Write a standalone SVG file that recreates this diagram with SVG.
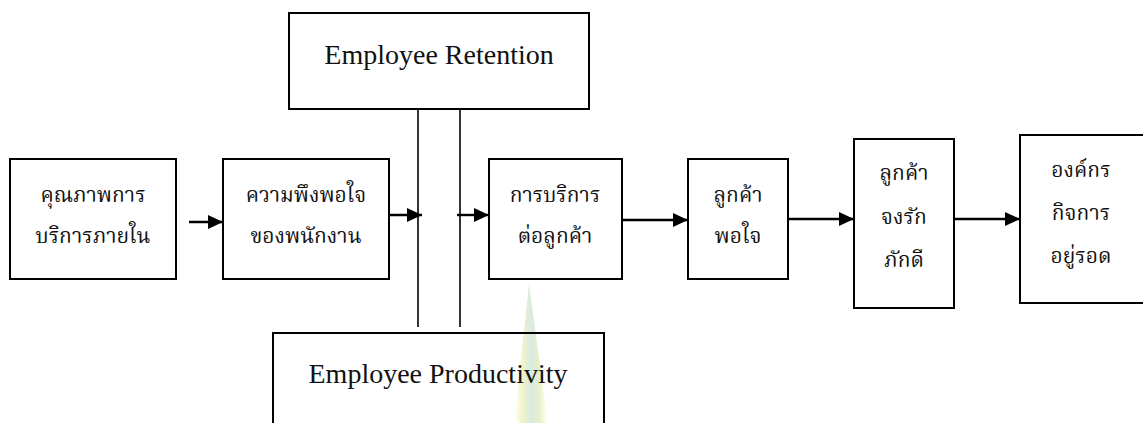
<svg xmlns="http://www.w3.org/2000/svg" width="1143" height="423" viewBox="0 0 1143 423">
  <defs>
    <style>
      .box { fill: none; stroke: #000; stroke-width: 2; }
      .th { font-family: "Liberation Serif", "Noto Serif Thai", "Noto Sans Thai", serif; font-size: 21px; fill: #111; text-anchor: middle; }
      .en { font-family: "Liberation Serif", serif; font-size: 28px; fill: #111; text-anchor: middle; }
      .flow { stroke: #000; stroke-width: 2.4; fill: none; marker-end: url(#head); }
      .rail { stroke: #000; stroke-width: 1.6; fill: none; }
    </style>
    <marker id="head" markerUnits="userSpaceOnUse" markerWidth="16" markerHeight="14" refX="15" refY="7" orient="auto">
      <path d="M0,0 L15,7 L0,14 z" fill="#000"/>
    </marker>
    <linearGradient id="spike" x1="0" y1="0" x2="1" y2="0">
      <stop offset="0" stop-color="#f7f3c4" stop-opacity="0"/>
      <stop offset="0.25" stop-color="#eef2c0"/>
      <stop offset="0.5" stop-color="#d3e8df"/>
      <stop offset="0.75" stop-color="#e4efc2"/>
      <stop offset="1" stop-color="#f7f3c4" stop-opacity="0"/>
    </linearGradient>
  </defs>
  <rect width="1143" height="423" fill="#fff"/>

  <!-- faint background spike -->
  <polygon points="529,284 514,423 548,423" fill="url(#spike)" opacity="0.9"/>

  <g id="connectors">
    <line class="rail" x1="418" y1="110" x2="418" y2="327"/>
    <line class="rail" x1="460" y1="110" x2="460" y2="327"/>
    <line class="flow" x1="189" y1="222" x2="223" y2="222"/>
    <line class="flow" x1="389" y1="215" x2="422" y2="215"/>
    <line class="flow" x1="457" y1="215" x2="489" y2="215"/>
    <line class="flow" x1="622" y1="220" x2="688" y2="220"/>
    <line class="flow" x1="788" y1="219" x2="854" y2="219"/>
    <line class="flow" x1="954" y1="219" x2="1020" y2="219"/>
  </g>

  <g id="retention">
    <rect class="box" x="289" y="13" width="300" height="96"/>
    <text class="en" x="439" y="64">Employee Retention</text>
  </g>

  <g id="productivity">
    <rect class="box" x="273" y="333" width="331" height="100"/>
    <text class="en" x="438" y="383">Employee Productivity</text>
  </g>

  <g id="internal-quality">
    <rect class="box" x="10" y="159" width="166" height="120"/>
    <text class="th" x="93" y="202">คุณภาพการ</text>
    <text class="th" x="93" y="243">บริการภายใน</text>
  </g>

  <g id="employee-satisfaction">
    <rect class="box" x="223" y="159" width="166" height="120"/>
    <text class="th" x="306" y="202">ความพึงพอใจ</text>
    <text class="th" x="306" y="243">ของพนักงาน</text>
  </g>

  <g id="service-value">
    <rect class="box" x="489" y="159" width="133" height="120"/>
    <text class="th" x="555" y="202">การบริการ</text>
    <text class="th" x="555" y="243">ต่อลูกค้า</text>
  </g>

  <g id="customer-satisfaction">
    <rect class="box" x="688" y="159" width="100" height="120"/>
    <text class="th" x="738" y="202">ลูกค้า</text>
    <text class="th" x="738" y="243">พอใจ</text>
  </g>

  <g id="customer-loyalty">
    <rect class="box" x="854" y="139" width="100" height="169"/>
    <text class="th" x="904" y="180">ลูกค้า</text>
    <text class="th" x="904" y="224">จงรัก</text>
    <text class="th" x="904" y="267">ภักดี</text>
  </g>

  <g id="business-survival">
    <rect class="box" x="1020" y="135" width="140" height="168"/>
    <text class="th" x="1081" y="177">องค์กร</text>
    <text class="th" x="1081" y="220">กิจการ</text>
    <text class="th" x="1081" y="263">อยู่รอด</text>
  </g>
</svg>
